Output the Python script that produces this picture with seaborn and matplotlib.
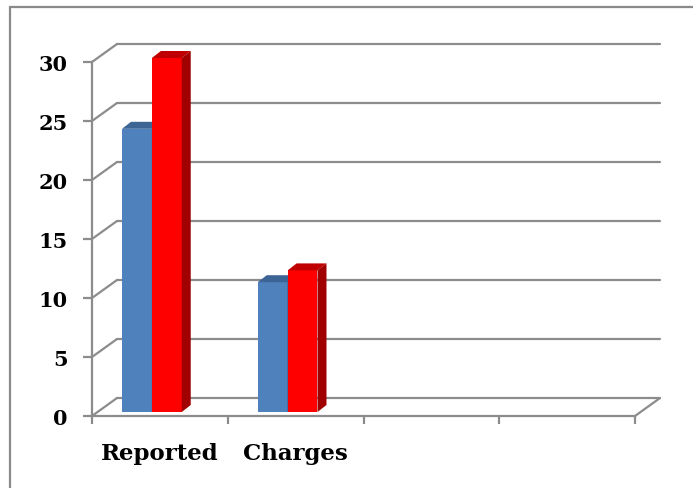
import pandas as pd
import matplotlib
matplotlib.use("Agg")
import matplotlib.pyplot as plt
from matplotlib.patches import Polygon
from matplotlib.lines import Line2D
import seaborn as sns

# -----------------------------
# Data
# -----------------------------
categories = ["Reported", "Charges"]
series_names = ["Series1", "Series2"]
series1 = [24, 11]
series2 = [30, 12]
n_slots = 4            # category slots on the floor (last two empty)
y_ticks = [0, 5, 10, 15, 20, 25, 30]

colors = ["#4f81bd", "#ff0000"]
top_colors = ["#3c6494", "#c00000"]
side_colors = ["#2f5078", "#a00000"]
grid_color = "#8c8c8c"

df = pd.DataFrame({
    "category": categories * 2,
    "series": [series_names[0]] * 2 + [series_names[1]] * 2,
    "value": series1 + series2,
})

# -----------------------------
# Figure / axes
# -----------------------------
sns.set_style("white")
plt.rcParams["font.family"] = ["DejaVu Serif"]

W, H = 693, 489
fig = plt.figure(figsize=(W / 100, H / 100), dpi=100)
ax_l, ax_r, ax_b, ax_t = 92, 635, 417, 63
ax = fig.add_axes([ax_l / W, (H - ax_b) / H, (ax_r - ax_l) / W, (ax_b - ax_t) / H])

sns.barplot(
    data=df, x="category", y="value", hue="series",
    order=categories, hue_order=series_names,
    palette=colors, width=0.44, saturation=1,
    legend=False, ax=ax, zorder=2,
)

ax.set_xlim(-0.5, n_slots - 0.5)
ax.set_ylim(0, y_ticks[-1])

# pixel -> data conversions
px_x = (n_slots) / (ax_r - ax_l)
px_y = y_ticks[-1] / (ax_b - ax_t)

# wall depth and bar depth
wdx, wdy = 25 * px_x, 18 * px_y
bdx, bdy = 9 * px_x, 7 * px_y
shift_x, shift_y = -8 * px_x, 4 * px_y

# -----------------------------
# Walls / gridlines
# -----------------------------
x0, x1 = -0.5, n_slots - 0.5
for v in y_ticks:
    ax.add_line(Line2D([x0 + wdx, x1 + wdx], [v + wdy, v + wdy],
                       color=grid_color, lw=1.6, zorder=1, clip_on=False))
    ax.add_line(Line2D([x0, x0 + wdx], [v, v + wdy],
                       color=grid_color, lw=1.6, zorder=1, clip_on=False))
ax.add_line(Line2D([x1, x1 + wdx], [0, wdy],
                   color=grid_color, lw=1.6, zorder=1, clip_on=False))

# -----------------------------
# 3D bar faces
# -----------------------------
bars = list(ax.patches)
for i, p in enumerate(bars):
    k = i // len(categories)
    p.set_x(p.get_x() + shift_x)
    p.set_y(p.get_y() + shift_y)
    p.set_zorder(2 + k)
    p.set_edgecolor("none")
    p.set_clip_on(False)
    x, y, w, h = p.get_x(), p.get_y(), p.get_width(), p.get_height()
    top = y + h
    ax.add_patch(Polygon(
        [(x, top), (x + w, top), (x + w + bdx, top + bdy), (x + bdx, top + bdy)],
        closed=True, facecolor=top_colors[k], edgecolor="none",
        zorder=2 + k, clip_on=False))
    ax.add_patch(Polygon(
        [(x + w, y), (x + w, top), (x + w + bdx, top + bdy), (x + w + bdx, y + bdy)],
        closed=True, facecolor=side_colors[k], edgecolor="none",
        zorder=2 + k, clip_on=False))

# -----------------------------
# Axes styling
# -----------------------------
for s in ["top", "right"]:
    ax.spines[s].set_visible(False)
for s in ["left", "bottom"]:
    ax.spines[s].set_color(grid_color)
    ax.spines[s].set_linewidth(1.6)

ax.set_yticks(y_ticks)
ax.set_yticklabels([str(t) for t in y_ticks], fontsize=15, fontweight="bold", color="black")
ax.tick_params(axis="y", left=True, length=6.5, width=1.6, color=grid_color, pad=11)

ax.set_xticks([x0 + i for i in range(n_slots + 1)])
ax.set_xticklabels([])
ax.set_xticks(range(len(categories)), minor=True)
ax.set_xticklabels(categories, minor=True, fontsize=16.5, fontweight="bold", color="black")
ax.tick_params(axis="x", which="major", bottom=True, length=6, width=1.6,
               color=grid_color, direction="out")
ax.tick_params(axis="x", which="minor", bottom=True, length=0, pad=19)

ax.set_xlabel("")
ax.set_ylabel("")

# outer chart border
fig.add_artist(Line2D([10 / W, 10 / W], [0, 1 - 8 / H], color="#8a8a8a", lw=1.6,
                      transform=fig.transFigure))
fig.add_artist(Line2D([10 / W, 1], [1 - 8 / H, 1 - 8 / H], color="#8a8a8a", lw=1.6,
                      transform=fig.transFigure))

fig.savefig("out.png", dpi=100)
plt.close(fig)
